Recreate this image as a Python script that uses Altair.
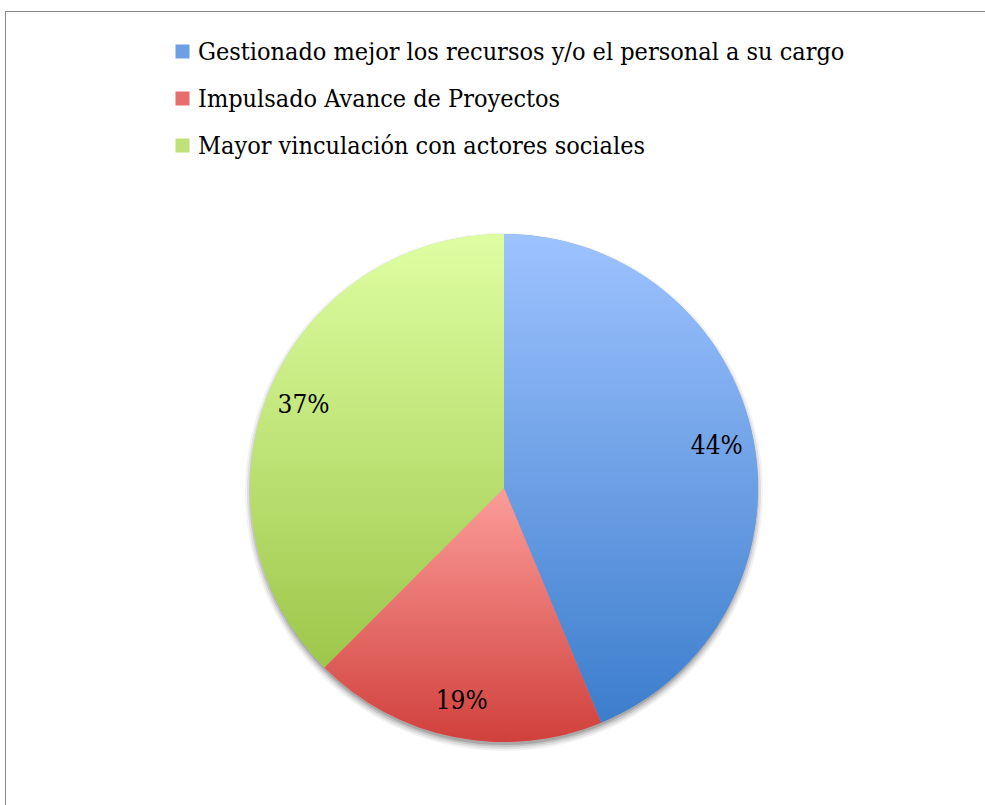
import altair as alt
import pandas as pd

# ---- data ----
categories = [
    "Gestionado mejor los recursos y/o el personal a su cargo",
    "Impulsado Avance de Proyectos",
    "Mayor vinculación con actores sociales",
]
values = [43.75, 18.75, 37.5]
labels = ["44%", "19%", "37%"]
order = [0, 1, 2]

# ---- styles ----
top_colors = ["#9EC3FF", "#FC9D9A", "#DFFEA2"]
bottom_colors = ["#3C7DCC", "#D0403C", "#9DC74A"]
mid_colors = ["#6C9FE6", "#E66F6B", "#BEE277"]
FONT = "DejaVu Serif Condensed, DejaVu Serif"
CX, CY, R = 504, 488, 254

df = pd.DataFrame({"category": categories, "value": values, "label": labels, "order": order})
TOTAL = sum(values)
theta_scale = alt.Scale(domain=[0, TOTAL])

one = pd.DataFrame({"k": [0]})

# soft drop shadow (decorative)
shadow_layers = []
for rad, op in [(259, 0.05), (257, 0.08), (255, 0.11), (253, 0.15)]:
    shadow_layers.append(
        alt.Chart(one).mark_arc(theta=0, theta2=6.2832, fill="#000000", opacity=op, radius=rad)
        .encode(x=alt.value(CX), y=alt.value(CY + 4))
    )

base = alt.Chart(df)

legend_layer = base.mark_arc(radius=R, stroke=None).encode(
    theta=alt.Theta("value:Q", stack=True, scale=theta_scale),
    order=alt.Order("order:Q"),
    color=alt.Color(
        "category:N",
        scale=alt.Scale(domain=categories, range=mid_colors),
        legend=alt.Legend(
            title=None,
            orient="none",
            legendX=170,
            legendY=39,
            symbolType="square",
            symbolSize=196,
            symbolStrokeWidth=0,
            labelFont=FONT,
            labelFontSize=25,
            labelColor="black",
            labelOffset=3,
            labelLimit=0,
            rowPadding=21,
            padding=0,
        ),
    ),
    x=alt.value(CX),
    y=alt.value(CY),
)

slice_layers = []
for i in range(len(categories)):
    grad = alt.LinearGradient(
        gradient="linear",
        x1=0, y1=0, x2=0, y2=1,
        stops=[
            alt.GradientStop(offset=0, color=top_colors[i]),
            alt.GradientStop(offset=1, color=bottom_colors[i]),
        ],
    )
    layer = (
        base.transform_window(cum="sum(value)", sort=[alt.SortField("order")])
        .transform_calculate(start="datum.cum - datum.value")
        .transform_filter(alt.datum.order == i)
        .mark_arc(radius=R, fill=grad, stroke=None)
        .encode(
            theta=alt.Theta("start:Q", scale=theta_scale),
            theta2="cum:Q",
            x=alt.value(CX),
            y=alt.value(CY),
        )
    )
    slice_layers.append(layer)

text_layer = base.mark_text(radius=217, font=FONT, fontSize=26, color="black").encode(
    theta=alt.Theta("value:Q", stack=True, scale=theta_scale),
    order=alt.Order("order:Q"),
    text="label:N",
    x=alt.value(CX),
    y=alt.value(CY),
)

border_top = alt.Chart(one).mark_rule(color="#8a8a8a", strokeWidth=1).encode(
    x=alt.value(5), x2=alt.value(985), y=alt.value(11.5)
)
border_left = alt.Chart(one).mark_rule(color="#8a8a8a", strokeWidth=1).encode(
    x=alt.value(5.5), y=alt.value(11), y2=alt.value(805)
)

chart = alt.layer(
    border_top, border_left, *shadow_layers, legend_layer, *slice_layers, text_layer
).properties(
    width=985,
    height=805,
    padding=0,
    autosize=alt.AutoSizeParams(type="none"),
    background="white",
).configure_view(stroke=None)

chart.save("out.html", embed_options={"renderer": "svg", "actions": False})
